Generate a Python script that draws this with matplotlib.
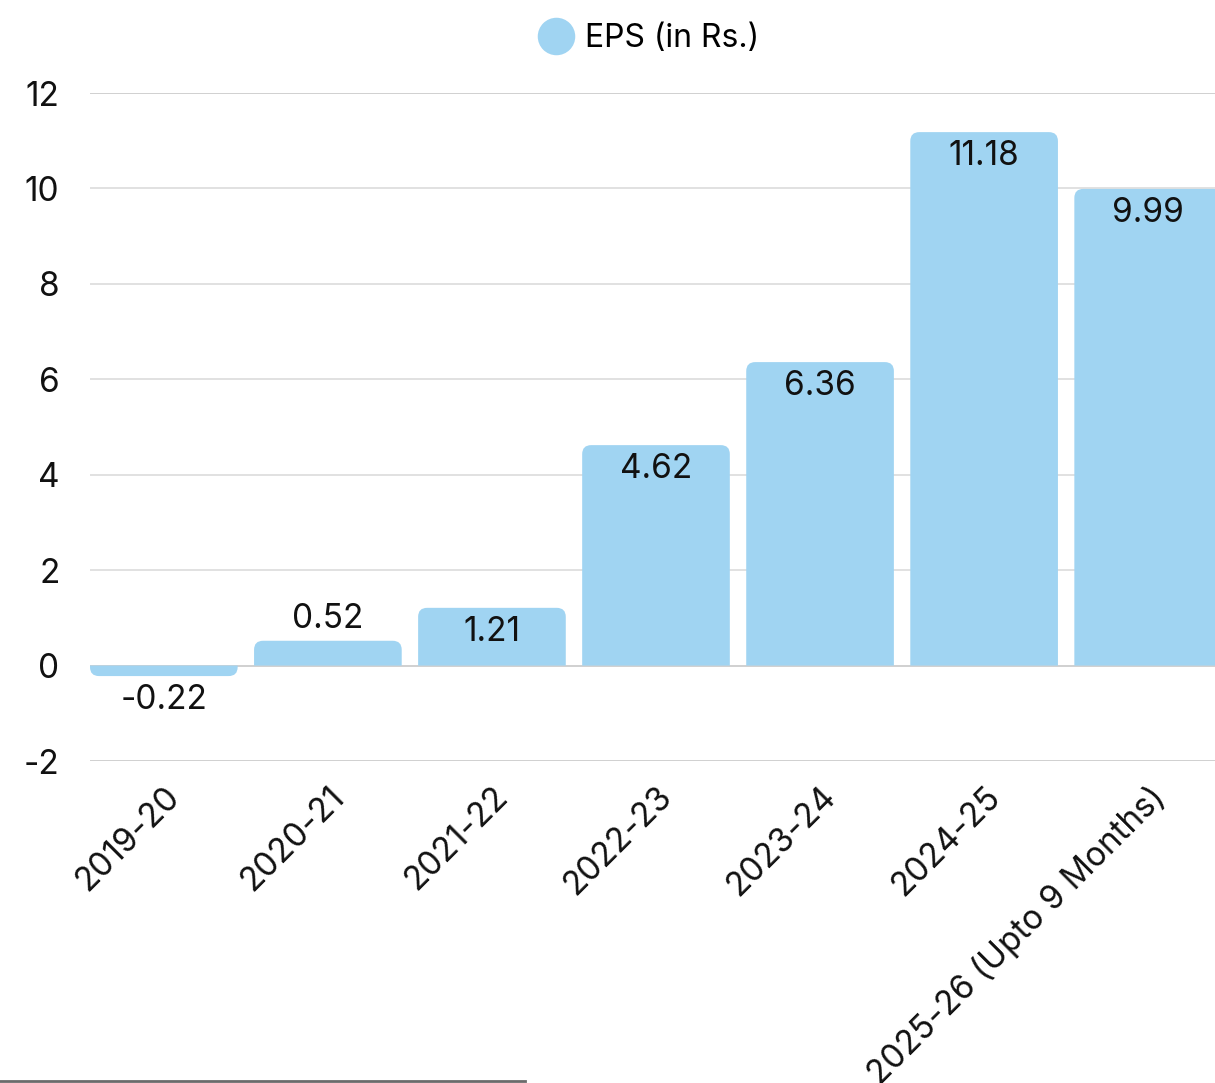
import matplotlib.pyplot as plt
from matplotlib.patches import PathPatch
from matplotlib.path import Path
from matplotlib.lines import Line2D
import numpy as np

# chart data
years = ['2019-20', '2020-21', '2021-22', '2022-23', '2023-24', '2024-25',
         '2025-26 (Upto 9 Months)']
eps = [-0.22, 0.52, 1.21, 4.62, 6.36, 11.18, 9.99]
y_ticks = [-2, 0, 2, 4, 6, 8, 10, 12]

BAR_COLOR = '#a0d4f2'
GRID_COLOR = '#dcdcdc'
TEXT_COLOR = '#111111'

plt.rcParams['font.family'] = ['Inter', 'DejaVu Sans']

fig = plt.figure(figsize=(12.15, 10.83), dpi=100)
ax = fig.add_axes([90 / 1215, 1 - 761 / 1083, 1132 / 1215, (761 - 93) / 1083])

x = np.arange(len(years))
width = 0.9
ax.set_xlim(-0.45, len(years) - 0.55)
ax.set_ylim(-2, 12)

# px per data unit, for rounded corners
px_x = 1132 / (len(years) - 0.1)
px_y = (761 - 93) / 14
rx = 9 / px_x
ry = 9 / px_y


def rounded_bar(xc, v):
    # bar with rounded corners only on the end away from zero
    x0, x1 = xc - width / 2, xc + width / 2
    s = 1 if v >= 0 else -1
    r = min(ry, abs(v))
    verts = [(x0, 0), (x0, v - s * r), (x0, v), (x0 + rx, v),
             (x1 - rx, v), (x1, v), (x1, v - s * r), (x1, 0), (x0, 0)]
    codes = [Path.MOVETO, Path.LINETO, Path.CURVE3, Path.CURVE3,
             Path.LINETO, Path.CURVE3, Path.CURVE3, Path.LINETO,
             Path.CLOSEPOLY]
    return PathPatch(Path(verts, codes), facecolor=BAR_COLOR,
                     edgecolor='none', zorder=3)


for xi, v in zip(x, eps):
    ax.add_patch(rounded_bar(xi, v))
    if v > 1:
        ypos = v - 0.5
    elif v >= 0:
        ypos = v + 0.45
    else:
        ypos = v - 0.5
    ax.text(xi, ypos, f"{v:.2f}", ha='center', va='center',
            fontsize=24, color=TEXT_COLOR, zorder=4)

ax.set_yticks(y_ticks)
ax.set_yticklabels([str(t) for t in y_ticks], fontsize=24, color=TEXT_COLOR)
ax.set_xticks(x)
ax.set_xticklabels(years, rotation=45, ha='right', rotation_mode='anchor',
                   fontsize=24, color=TEXT_COLOR)
ax.tick_params(axis='both', length=0)
ax.tick_params(axis='y', pad=22)
ax.tick_params(axis='x', pad=14)

for t in y_ticks:
    ax.axhline(t, color='#c8c8c8' if t in (-2, 0, 12) else GRID_COLOR,
               linewidth=1.2, zorder=1)

ax.spines[:].set_visible(False)

# legend
handle = Line2D([], [], marker='o', linestyle='none', markersize=27,
                markerfacecolor=BAR_COLOR, markeredgecolor='none')
fig.legend([handle], ['EPS (in Rs.)'], loc='upper center',
           bbox_to_anchor=(0.528, 1.005), frameon=False, fontsize=23,
           handletextpad=-0.1)

# thin rule at the bottom left
fig.add_artist(Line2D([0, 525 / 1215], [2 / 1083, 2 / 1083],
                      color='#6b6b6b', linewidth=2))

fig.savefig('out.png', dpi=100)
